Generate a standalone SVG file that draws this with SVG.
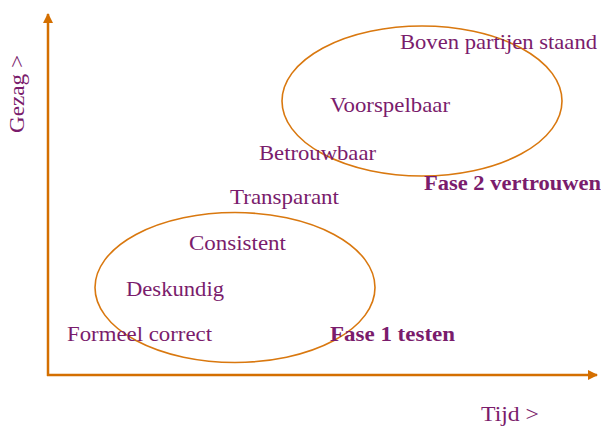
<svg xmlns="http://www.w3.org/2000/svg" width="601" height="428" viewBox="0 0 601 428">
<style>
.t{font-family:"Liberation Serif","Times New Roman",serif;font-size:21px;fill:#7a1c6c}
.b{font-weight:bold}
.ax{stroke:#d46f00;stroke-width:2.5;fill:none}
.el{stroke:#d9780f;stroke-width:1.6;fill:none}
</style>
<defs>
<marker id="ah" viewBox="0 0 10 10" refX="9" refY="5" markerWidth="10" markerHeight="10" markerUnits="userSpaceOnUse" orient="auto">
<path d="M0,0 L10,5 L0,10 z" fill="#d46f00"/>
</marker>
</defs>
<rect width="601" height="428" fill="#ffffff"/>
<g id="connectors">
<line class="ax" x1="48" y1="376" x2="48" y2="14" marker-end="url(#ah)"/>
<line class="ax" x1="47" y1="375" x2="597" y2="375" marker-end="url(#ah)"/>
</g>
<g id="fase1">
<ellipse class="el" cx="235" cy="287.5" rx="140" ry="75"/>
<text class="t b" x="330" y="341" textLength="125" lengthAdjust="spacingAndGlyphs">Fase 1 testen</text>
</g>
<g id="fase2">
<ellipse class="el" cx="422" cy="101" rx="140" ry="75"/>
<text class="t b" x="424" y="190" textLength="177" lengthAdjust="spacingAndGlyphs">Fase 2 vertrouwen</text>
</g>
<g id="n-boven"><text class="t" x="400" y="49" textLength="197" lengthAdjust="spacingAndGlyphs">Boven partijen staand</text></g>
<g id="n-voorspelbaar"><text class="t" x="330" y="112" textLength="120" lengthAdjust="spacingAndGlyphs">Voorspelbaar</text></g>
<g id="n-betrouwbaar"><text class="t" x="259" y="160" textLength="117" lengthAdjust="spacingAndGlyphs">Betrouwbaar</text></g>
<g id="n-transparant"><text class="t" x="230" y="204" textLength="109" lengthAdjust="spacingAndGlyphs">Transparant</text></g>
<g id="n-consistent"><text class="t" x="189" y="250" textLength="97" lengthAdjust="spacingAndGlyphs">Consistent</text></g>
<g id="n-deskundig"><text class="t" x="126" y="296" textLength="98" lengthAdjust="spacingAndGlyphs">Deskundig</text></g>
<g id="n-formeel"><text class="t" x="67" y="341" textLength="145" lengthAdjust="spacingAndGlyphs">Formeel correct</text></g>
<g id="axis-labels">
<text class="t" x="481" y="421" textLength="58" lengthAdjust="spacingAndGlyphs">Tijd &gt;</text>
<text class="t" transform="translate(24,133) rotate(-90)" x="0" y="0" textLength="78" lengthAdjust="spacingAndGlyphs">Gezag &gt;</text>
</g>
</svg>
